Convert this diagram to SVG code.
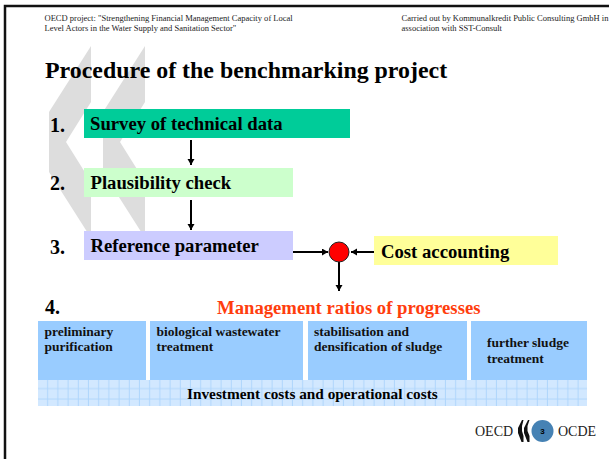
<svg xmlns="http://www.w3.org/2000/svg" width="609" height="459" viewBox="0 0 609 459">
<style>
text{font-family:"Liberation Serif","Times New Roman",serif;fill:#000}
.h{font-size:8.53px;fill:#222}
.b{font-weight:bold}
.s{font-size:18.7px;font-weight:bold}
.n{font-size:20px;font-weight:bold}
.t{font-size:13.5px;font-weight:bold;fill:#111}
.chev{fill:#ddd}
.lg{fill:#111}
.ln{stroke:#000;stroke-width:2;fill:none;marker-end:url(#arr)}
</style>
<defs>
<marker id="arr" markerUnits="userSpaceOnUse" markerWidth="8" markerHeight="8" refX="6" refY="3.5" orient="auto"><path d="M0 0L6 3.5L0 7Z" fill="#000"/></marker>
<pattern id="grid" patternUnits="userSpaceOnUse" x="38" y="380" width="10.2" height="10.5">
<rect width="10.2" height="10.5" fill="#d2e8ff"/>
<path d="M9.7 0V10.5M0 8.5H10.2" stroke="#b0d6fc" stroke-width="1"/>
</pattern>
</defs>
<rect width="609" height="459" fill="#fff"/>
<path id="frame" d="M609 6H5V459" fill="none" stroke="#111" stroke-width="2.5"/>
<polygon class="chev" points="91,46 91,102 66,142 91,182 91,238 49,172 49,112"/>
<polygon class="chev" points="145,46 145,102 120,142 145,182 145,238 103,172 103,112"/>
<text class="h" x="44.500" y="21">OECD project: "Strengthening Financial Management Capacity of Local</text>
<text class="h" x="44.500" y="31">Level Actors in the Water Supply and Sanitation Sector"</text>
<text class="h" x="401.500" y="21">Carried out by Kommunalkredit Public Consulting GmbH in</text>
<text class="h" x="401.500" y="31">association with SST-Consult</text>
<text class="b" x="45" y="78" font-size="23.9">Procedure of the benchmarking project</text>
<g id="step1"><text class="n" x="50" y="132">1.</text><rect x="84" y="109" width="266" height="29" fill="#00cc99"/><text class="s" x="90" y="130">Survey of technical data</text></g>
<g id="step2"><text class="n" x="50" y="190">2.</text><rect x="84" y="168" width="209" height="29" fill="#ccffcc"/><text class="s" x="90.500" y="189">Plausibility check</text></g>
<g id="step3"><text class="n" x="50" y="254">3.</text><rect x="84" y="231" width="209" height="29" fill="#ccccff"/><text class="s" x="90.500" y="252">Reference parameter</text></g>
<g id="cost"><rect x="374" y="236" width="184" height="29" fill="#ffff99"/><text class="s" x="381" y="258">Cost accounting</text></g>
<g id="connectors">
<path class="ln" d="M191 140V165"/>
<path class="ln" d="M191 200V230"/>
<path class="ln" d="M293 252H328"/>
<path class="ln" d="M374 252H351"/>
<path class="ln" d="M339 262V291"/>
</g>
<g id="junction"><circle cx="339" cy="252" r="10" fill="#ff0000" stroke="#222" stroke-width="1"/></g>
<g id="step4"><text class="n" x="45" y="314">4.</text><text x="217" y="314" font-size="18.7" font-weight="bold" style="fill:#ff3d0d">Management ratios of progresses</text></g>
<g id="band"><rect x="38" y="380" width="549" height="26" fill="url(#grid)"/><text class="b" x="187" y="399" font-size="15.3" fill="#111">Investment costs and operational costs</text></g>
<g id="box1"><rect x="38" y="321" width="108" height="59" fill="#99ccff"/><text class="t" x="44.500" y="336">preliminary</text><text class="t" x="44.500" y="351">purification</text></g>
<g id="box2"><rect x="150" y="321" width="153" height="59" fill="#99ccff"/><text class="t" x="156.500" y="336">biological wastewater</text><text class="t" x="156.500" y="351">treatment</text></g>
<g id="box3"><rect x="308" y="321" width="159" height="59" fill="#99ccff"/><text class="t" x="314" y="336">stabilisation and</text><text class="t" x="314" y="351">densification of sludge</text></g>
<g id="box4"><rect x="471" y="321" width="116" height="59" fill="#99ccff"/><text class="t" x="487" y="347">further sludge</text><text class="t" x="487" y="363">treatment</text></g>
<g id="logo">
<text x="475" y="436" font-size="14" style="fill:#222">OECD</text>
<polygon class="lg" points="522,420 523.500,420 522,426 522,431 523.500,436 523.500,442 521.500,442 518,433 518,428"/>
<polygon class="lg" points="528,420 529.500,420 527.500,426 527.500,431 529.500,436 529.500,442 527.500,442 524,433 524,428"/>
<circle cx="542.500" cy="431" r="11" fill="#4682b4"/>
<text x="542.500" y="434" font-size="8" font-weight="bold" text-anchor="middle" style="font-family:'Liberation Sans',Arial,sans-serif">3</text>
<text x="558" y="436" font-size="14" style="fill:#222">OCDE</text>
</g>
</svg>
